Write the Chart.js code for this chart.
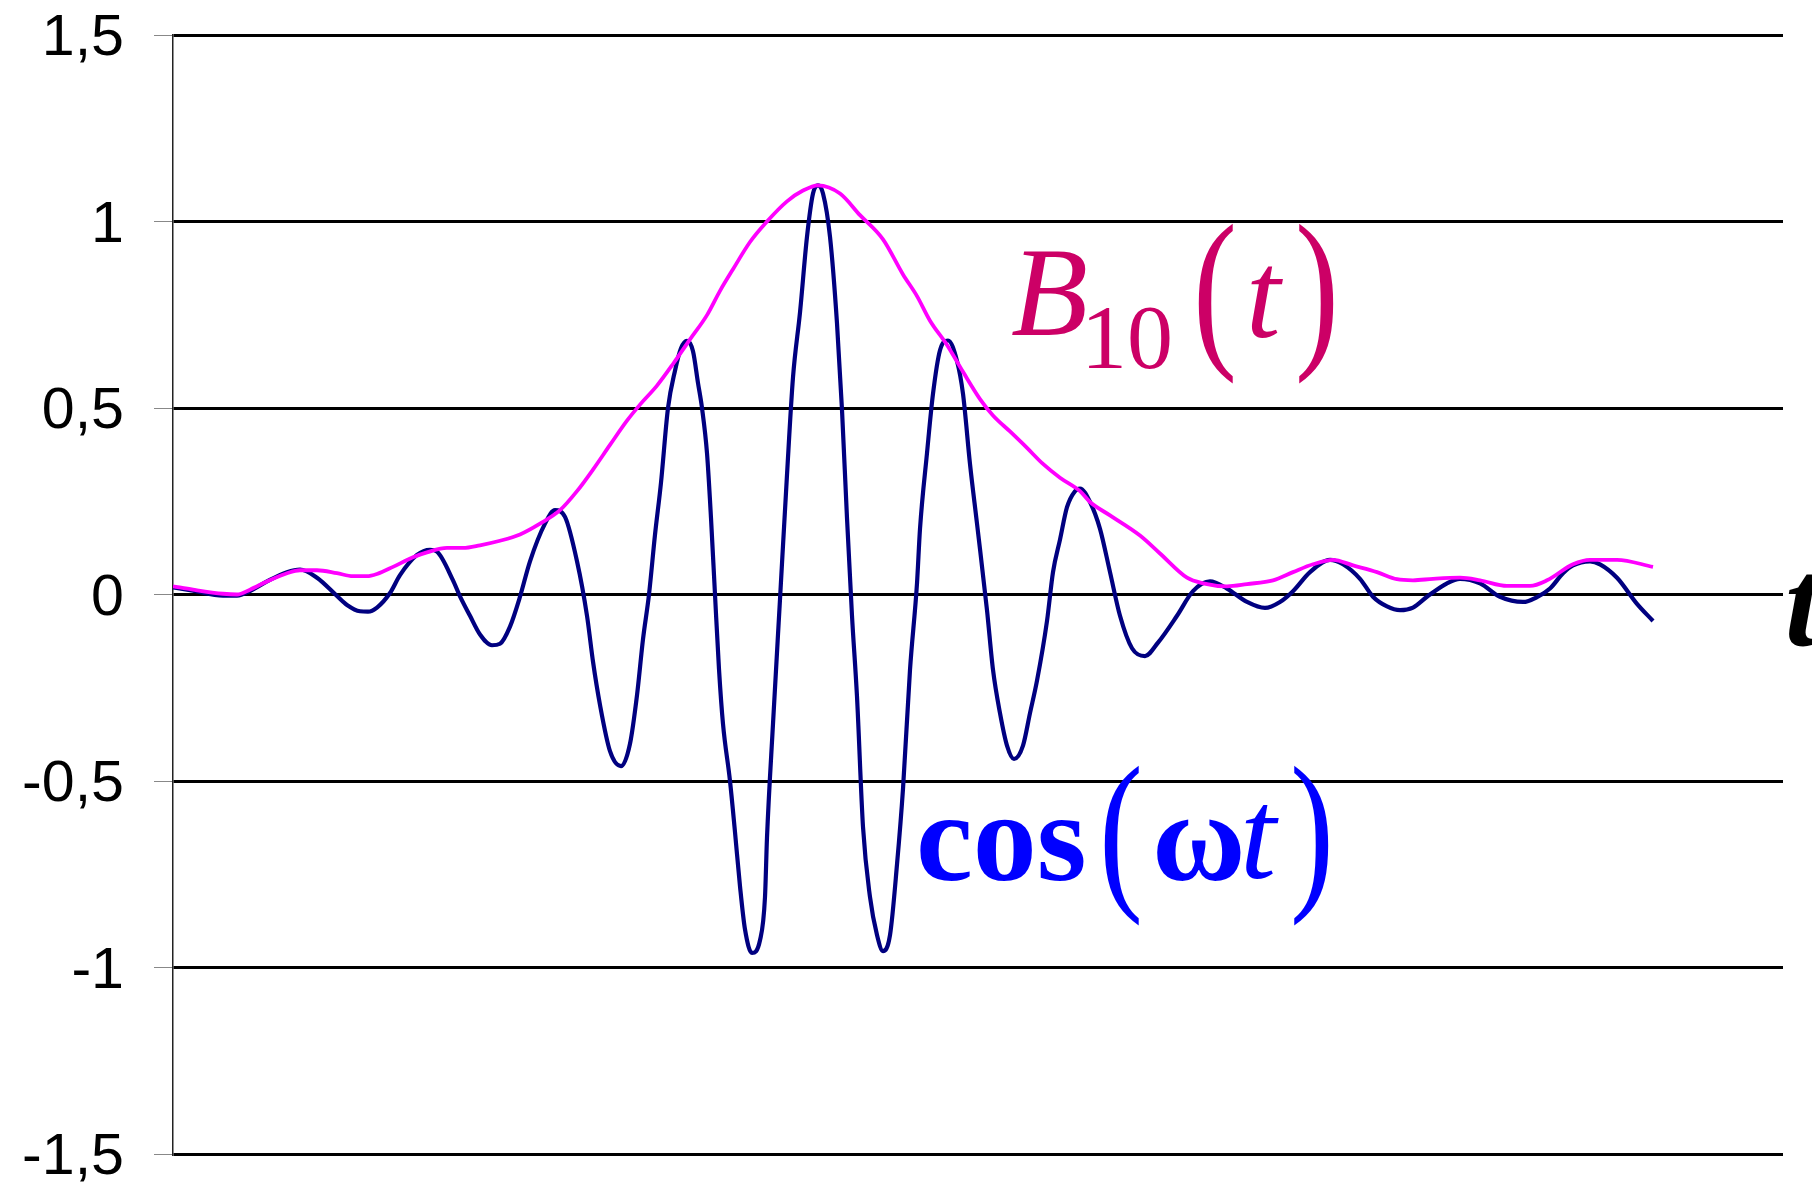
<!DOCTYPE html>
<html>
<head>
<meta charset="utf-8">
<script src="https://cdn.jsdelivr.net/npm/chart.js@4.4.1/dist/chart.umd.min.js"></script>
<style>
  html, body { margin:0; padding:0; background:#fff; }
  #wrap { width:1812px; height:1186px; }
</style>
</head>
<body>
<div id="wrap"><canvas id="c" width="1812" height="1186"></canvas></div>
<script>
// ─── Data ────────────────────────────────────────────────────────────────────
// t = sample position along the time axis, v = value
const tBlue = [0,20,50,64,77,94,114,127,144,164,174,187,195,204,217,227,244,257,264,280,
  287,297,307,319,327,337,347,357,372,382,392,404,414,420,427,437,448,457,464,470,
  476,482,488,495,502,508,514,520,525,529,534,538,542,546,550,557,562,567,572,579,
  587,592,594,600,607,614,620,627,634,640,645,650,657,664,669,674,679,684,690,697,
  704,710,717,724,730,737,744,747,754,760,767,775,784,790,797,804,814,820,827,834,
  841,850,857,864,874,880,887,894,902,907,917,927,937,947,959,972,985,1004,1020,1037,
  1054,1074,1092,1107,1120,1137,1157,1170,1187,1200,1214,1227,1240,1254,1274,1287,1307,1327,1350,1364,
  1377,1390,1400,1417,1427,1444,1464,1480];
const vBlue = [0.019,0.010,-0.003,-0.003,0.009,0.035,0.060,0.067,0.045,-0.004,-0.028,-0.045,-0.046,-0.035,0.004,0.052,0.106,0.120,0.115,0.038,
  -0.005,-0.057,-0.107,-0.136,-0.132,-0.086,-0.006,0.089,0.190,0.226,0.208,0.089,-0.057,-0.180,-0.296,-0.420,-0.460,-0.400,-0.270,-0.120,
  0.000,0.160,0.300,0.500,0.600,0.660,0.680,0.652,0.567,0.500,0.379,0.205,0.000,-0.200,-0.347,-0.500,-0.637,-0.782,-0.898,-0.961,
  -0.927,-0.811,-0.652,-0.347,-0.013,0.321,0.582,0.756,0.959,1.075,1.097,1.075,0.959,0.727,0.495,0.205,-0.057,-0.274,-0.623,-0.811,
  -0.913,-0.956,-0.913,-0.724,-0.521,-0.202,0.030,0.176,0.379,0.538,0.655,0.681,0.626,0.538,0.350,0.190,-0.042,-0.202,-0.318,-0.405,
  -0.441,-0.405,-0.318,-0.231,-0.071,0.060,0.147,0.234,0.277,0.284,0.248,0.176,0.060,-0.057,-0.144,-0.165,-0.129,-0.057,0.009,0.035,
  0.016,-0.020,-0.036,-0.020,0.009,0.060,0.093,0.081,0.042,-0.006,-0.032,-0.042,-0.035,-0.006,0.030,0.042,0.030,-0.006,-0.020,-0.007,
  0.016,0.057,0.078,0.089,0.081,0.045,-0.025,-0.071];

const tPink = [0,20,50,64,77,94,114,127,144,164,180,194,204,220,240,254,274,290,307,327,
  347,367,387,404,420,437,454,467,484,500,517,534,547,560,577,594,614,630,645,667,
  687,710,730,744,757,774,790,807,820,837,854,870,887,907,917,937,967,987,1014,1030,
  1054,1074,1100,1120,1140,1160,1180,1204,1224,1240,1260,1287,1307,1334,1357,1374,1400,1417,1444,1480];
const vPink = [0.022,0.013,0.002,0.000,0.013,0.035,0.057,0.065,0.065,0.057,0.049,0.049,0.055,0.074,0.100,0.113,0.125,0.125,0.132,0.144,
  0.161,0.190,0.226,0.277,0.335,0.401,0.466,0.509,0.560,0.618,0.684,0.749,0.814,0.872,0.945,1.000,1.054,1.083,1.097,1.075,
  1.017,0.952,0.858,0.800,0.734,0.669,0.597,0.524,0.480,0.437,0.393,0.350,0.313,0.277,0.248,0.212,0.158,0.110,0.045,0.030,
  0.022,0.028,0.038,0.060,0.081,0.093,0.078,0.060,0.041,0.038,0.042,0.045,0.038,0.023,0.023,0.038,0.081,0.093,0.093,0.074];

const tMax = 1610;
const yTicks      = [-1.5, -1, -0.5, 0, 0.5, 1, 1.5];
const yTickLabels = ['-1,5', '-1', '-0,5', '0', '0,5', '1', '1,5'];

// ─── Style ───────────────────────────────────────────────────────────────────
const COL = { navy:'#000080', magenta:'#FF00FF', crimson:'#CC0066', blue:'#0000FF' };
const SERIF = '"Liberation Serif", "Times New Roman", serif';
const SANS  = '"Liberation Sans", Arial, sans-serif';

const pts = (ts, vs) => ts.map((t, i) => ({ x:t, y:vs[i] }));

function txt(ctx, s, x, y, font, color, sx = 1) {
  ctx.save();
  ctx.font = font;
  ctx.fillStyle = color;
  ctx.translate(x, y);
  ctx.scale(sx, 1);
  ctx.fillText(s, 0, 0);
  ctx.restore();
}

// tick labels + formula captions
const overlay = {
  id: 'overlay',
  afterDraw(chart) {
    const ctx = chart.ctx, ys = chart.scales.y;
    ctx.save();
    ctx.textAlign = 'right';
    ctx.textBaseline = 'middle';
    yTicks.forEach((v, i) => txt(ctx, yTickLabels[i], 124, ys.getPixelForValue(v) + 4, '58px ' + SANS, '#000', 1.02));
    ctx.textAlign = 'left';
    ctx.textBaseline = 'alphabetic';

    // B10(t)
    txt(ctx, 'B',  1011, 335, 'italic 126px ' + SERIF, COL.crimson);
    txt(ctx, '10', 1081, 368, '92px ' + SERIF, COL.crimson);
    txt(ctx, '(',  1193, 346, '176px ' + SERIF, COL.crimson, 0.75);
    txt(ctx, 't',  1246, 337, 'italic 124px ' + SERIF, COL.crimson);
    txt(ctx, ')',  1295, 346, '176px ' + SERIF, COL.crimson, 0.75);

    // cos(ωt)
    txt(ctx, 'cos', 916, 880, 'bold 128px ' + SERIF, COL.blue);
    txt(ctx, '(',  1099, 888, '176px ' + SERIF, COL.blue, 0.75);
    txt(ctx, 'ω',  1152, 880, '600 128px ' + SERIF, COL.blue);
    txt(ctx, 't',  1240, 878, 'italic 130px ' + SERIF, COL.blue);
    txt(ctx, ')',  1290, 888, '176px ' + SERIF, COL.blue, 0.75);

    // axis name
    txt(ctx, 't', 1785, 645, 'bold italic 125px ' + SERIF, '#000');
    ctx.restore();
  }
};

new Chart(document.getElementById('c'), {
  type: 'scatter',
  data: { datasets: [
    { label:'B10(t)',   data:pts(tPink, vPink), showLine:true, borderColor:COL.magenta, borderWidth:3.8,
      pointRadius:0, cubicInterpolationMode:'monotone', order:0 },
    { label:'cos(ωt)', data:pts(tBlue, vBlue), showLine:true, borderColor:COL.navy, borderWidth:4.2,
      pointRadius:0, cubicInterpolationMode:'monotone', order:1 },
  ]},
  options: {
    responsive:false, animation:false, events:[],
    layout:{ padding:{ top:35, bottom:32, right:29, left:0 } },
    plugins:{ legend:{display:false}, tooltip:{enabled:false} },
    scales:{
      x:{ type:'linear', min:0, max:tMax, display:false },
      y:{ min:-1.5, max:1.5,
          ticks:{ stepSize:0.5, display:false },
          grid:{ color:'#000', lineWidth:3, drawTicks:true, tickLength:19, tickColor:'#888', tickWidth:1 },
          border:{ display:true, color:'#222', width:1.5 },
          afterFit(s){ s.width = 173; } }
    }
  },
  plugins:[overlay]
});
</script>
</body>
</html>
